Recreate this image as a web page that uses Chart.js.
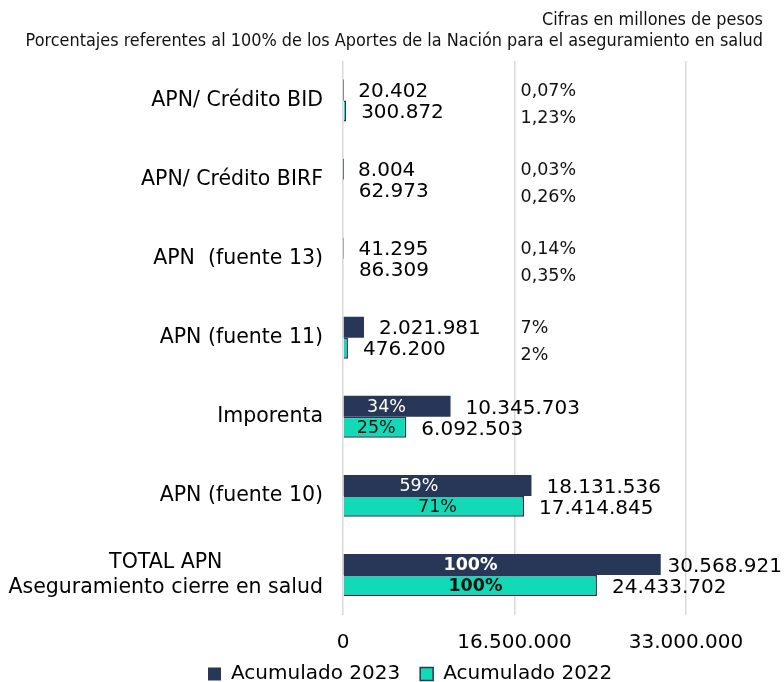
<!DOCTYPE html>
<html><head><meta charset="utf-8">
<script src="https://cdn.jsdelivr.net/npm/chart.js@4/dist/chart.umd.min.js"></script>
<style>html,body{margin:0;padding:0;background:#fff}</style>
</head><body><canvas id="c" width="784" height="682"></canvas>
<script>
const categories = [['APN/ Crédito BID'],['APN/ Crédito BIRF'],['APN  (fuente 13)'],['APN (fuente 11)'],['Imporenta'],['APN (fuente 10)'],['TOTAL APN','Aseguramiento cierre en salud']];
const values2023 = [20402, 8004, 41295, 2021981, 10345703, 18131536, 30568921];
const values2022 = [300872, 62973, 86309, 476200, 6092503, 17414845, 24433702];
const pct2023 = ['0,07%','0,03%','0,14%','7%','34%','59%','100%'];
const pct2022 = ['1,23%','0,26%','0,35%','2%','25%','71%','100%'];
const xTicks = [0, 16500000, 33000000];
const seriesNames = ['Acumulado 2023','Acumulado 2022'];
const titleLines = ['Cifras en millones de pesos','Porcentajes referentes al 100% de los Aportes de la Nación para el aseguramiento en salud'];

const NAVY = '#283657', TEAL = '#12dab6';
const FONT = 'DejaVu Sans';
const fmt = n => String(n).replace(/\B(?=(\d{3})+(?!\d))/g, '.');

const overlay = {
  id: 'overlay',
  afterLayout(chart) {
    const lg = chart.legend;
    if (lg && lg.lineWidths) {
      const pad = lg.options.labels.padding;
      const start = (lg.left + pad + lg.right - lg.lineWidths[0]) / 2;
      const dx = 208 - start;
      lg.left += dx; lg.right += dx;
      lg.top += 12; lg.bottom += 12;
    }
    const xs = chart.scales.x;
    xs.bottom = chart.height;
  },
  afterDraw(chart) {
    const ctx = chart.ctx;
    const xs = chart.scales.x, ys = chart.scales.y;
    ctx.save();
    // title
    ctx.fillStyle = '#111';
    ctx.textAlign = 'right';
    ctx.textBaseline = 'middle';
    const tf = '"DejaVu Sans Condensed", "' + FONT + '"';
    ctx.font = '15px ' + tf;
    const tw = ctx.measureText(titleLines[1]).width;
    const ts = 15 * 738 / tw;
    ctx.font = ts.toFixed(2) + 'px ' + tf;
    ctx.fillText(titleLines[0], 763, 20);
    ctx.fillText(titleLines[1], 763, 41);
    // category labels
    ctx.font = '20.5px "' + FONT + '"';
    ctx.fillStyle = '#000';
    ctx.textAlign = 'center';
    categories.forEach((lines, i) => {
      const cy = ys.getPixelForValue(i);
      const w = Math.max(...lines.map(l => ctx.measureText(l).width));
      const cx = 323 - w / 2;
      const lh = 25;
      lines.forEach((l, k) => {
        ctx.fillText(l, cx, cy + (k - (lines.length - 1) / 2) * lh);
      });
    });
    // value and percent labels
    const sets = [[values2023, pct2023, '#fff', 0.4, 1], [values2022, pct2022, '#111', 0.52, 7]];
    sets.forEach(([vals, pcts, inCol, frac, off], d) => {
      const meta = chart.getDatasetMeta(d);
      meta.data.forEach((bar, i) => {
        ctx.textBaseline = 'middle';
        ctx.textAlign = 'left';
        ctx.fillStyle = '#000';
        ctx.font = '20px "' + FONT + '"';
        const txt = fmt(vals[i]);
        const vw = ctx.measureText(txt).width;
        ctx.fillText(txt, Math.min(bar.x + 15, chart.width - 2 - vw), bar.y + 2);
        const w = bar.x - bar.base;
        const bold = pcts[i] === '100%';
        if (w > 50) {
          ctx.textAlign = 'center';
          ctx.fillStyle = inCol;
          ctx.font = (bold ? 'bold ' : '') + '17.5px "' + FONT + '"';
          ctx.fillText(pcts[i], bar.base + w * frac, bar.y + 1);
        } else {
          ctx.textAlign = 'left';
          ctx.fillStyle = '#111';
          ctx.font = '17.5px "' + FONT + '"';
          ctx.fillText(pcts[i], xs.getPixelForValue(xTicks[1]) + 6, bar.y + off);
        }
      });
    });
    ctx.restore();
  }
};

new Chart(document.getElementById('c'), {
  type: 'bar',
  data: {
    labels: categories,
    datasets: [
      { label: seriesNames[0], data: values2023, backgroundColor: NAVY, borderWidth: 0 },
      { label: seriesNames[1], data: values2022, backgroundColor: TEAL, borderColor: NAVY, borderWidth: 1.5 }
    ]
  },
  options: {
    indexAxis: 'y',
    responsive: false,
    animation: false,
    devicePixelRatio: 1,
    layout: { padding: { top: 61, right: 98, left: 0, bottom: 0 } },
    datasets: { bar: { barPercentage: 1, categoryPercentage: 0.53 } },
    plugins: {
      tooltip: { enabled: false },
      legend: {
        position: 'bottom',
        labels: {
          boxWidth: 13, boxHeight: 13, padding: 20, color: '#000',
          font: { family: FONT, size: 20 }
        }
      }
    },
    scales: {
      x: {
        min: 0, max: 33000000,
        afterBuildTicks: s => { s.ticks = xTicks.map(v => ({ value: v })); },
        afterFit: s => { s.height = 17.5; },
        grid: { color: '#d9d9d9', lineWidth: 1.5, drawTicks: false },
        border: { display: false },
        ticks: {
          padding: 16, color: '#000', maxRotation: 0, autoSkip: false,
          font: { family: FONT, size: 20 },
          callback: v => fmt(v)
        }
      },
      y: {
        afterFit: s => { s.width = 343; },
        grid: { display: false },
        border: { display: false },
        ticks: { display: false }
      }
    }
  },
  plugins: [overlay]
});
</script></body></html>
